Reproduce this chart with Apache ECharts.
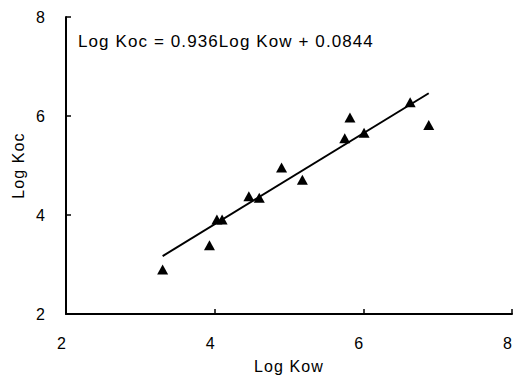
<!DOCTYPE html>
<html>
<head>
<meta charset="utf-8">
<script src="https://cdn.jsdelivr.net/npm/echarts@6/dist/echarts.min.js"></script>
<style>
  html, body { margin: 0; padding: 0; background: #fff; }
  #chart { width: 515px; height: 377px; }
  /* 原图文字字距偏宽 */
  #chart text { letter-spacing: 1.1px; }
</style>
</head>
<body>
<div id="chart"></div>
<script>
// 实测点 (Log Kow, Log Koc)
const logKow = [3.30, 3.93, 4.03, 4.10, 4.46, 4.60, 4.90, 5.18, 5.75, 5.82, 6.01, 6.63, 6.88];
const logKoc = [2.90, 3.39, 3.91, 3.91, 4.38, 4.35, 4.96, 4.71, 5.55, 5.97, 5.66, 6.28, 5.82];

// 回归线两端
const fitX = [3.30, 6.88];
const fitY = [3.17, 6.46];

const xTicks = [2, 4, 6, 8];
const yTicks = [2, 4, 6, 8];
const equation = 'Log Koc = 0.936Log Kow + 0.0844';

const FONT = '"Liberation Sans", Arial, sans-serif';
const INK = '#000';

const chart = echarts.init(document.getElementById('chart'), null, { renderer: 'svg' });

const axisCommon = {
  min: 2,
  max: 8,
  interval: 2,
  axisLine: { show: true, onZero: false, lineStyle: { color: INK, width: 2 } },
  axisTick: { show: true, inside: true, length: 5, lineStyle: { color: INK, width: 1.5 } },
  splitLine: { show: false },
  nameTextStyle: { color: INK, fontFamily: FONT, fontSize: 16 },
};

chart.setOption({
  animation: false,
  backgroundColor: '#fff',
  grid: { left: 66, right: 3, top: 17, bottom: 63, outerBoundsMode: 'none', containLabel: false },
  xAxis: {
    type: 'value',
    ...axisCommon,
    name: 'Log Kow',
    nameLocation: 'middle',
    nameGap: 44,
    axisLabel: {
      color: INK, fontFamily: FONT, fontSize: 16, margin: 21,
      padding: [0, 8, 0, 0],
      formatter: (v) => (xTicks.includes(v) ? String(v) : ''),
    },
  },
  yAxis: {
    type: 'value',
    ...axisCommon,
    name: 'Log Koc',
    nameLocation: 'middle',
    nameGap: 40,
    axisLabel: {
      color: INK, fontFamily: FONT, fontSize: 16, margin: 20,
      formatter: (v) => (yTicks.includes(v) ? String(v) : ''),
    },
  },
  graphic: [{
    type: 'text',
    left: 78,
    top: 33,
    style: { text: equation, fill: INK, font: '17px ' + FONT },
  }],
  series: [
    {
      type: 'line',
      data: fitX.map((x, i) => [x, fitY[i]]),
      symbol: 'none',
      lineStyle: { color: INK, width: 2 },
      z: 2,
    },
    {
      type: 'scatter',
      data: logKow.map((x, i) => [x, logKoc[i]]),
      symbol: 'triangle',
      symbolSize: [11, 10],
      itemStyle: { color: INK, opacity: 1 },
      z: 3,
    },
  ],
});
</script>
</body>
</html>
